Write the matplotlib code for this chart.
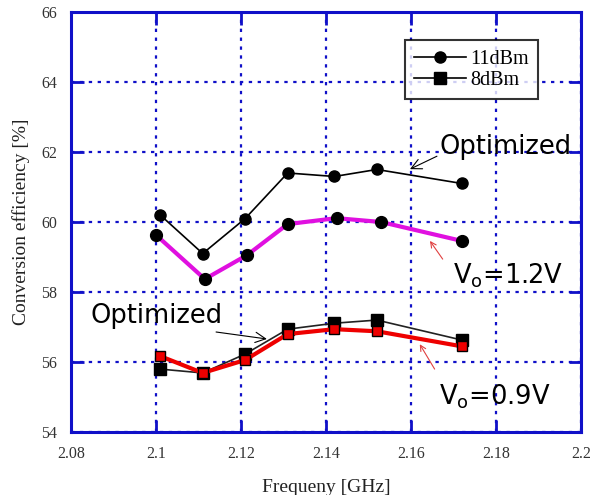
import matplotlib
matplotlib.use("Agg")
import matplotlib.pyplot as plt

# frequency points [GHz]
freq_11 = [2.101, 2.111, 2.121, 2.131, 2.142, 2.152, 2.172]
freq_12v = [2.100, 2.1115, 2.1215, 2.131, 2.1425, 2.153, 2.172]
freq_8 = [2.101, 2.111, 2.121, 2.131, 2.142, 2.152, 2.172]

# conversion efficiency [%]
eff_11_opt = [60.2, 59.1, 60.1, 61.4, 61.3, 61.5, 61.1]
eff_11_v12 = [59.63, 58.37, 59.06, 59.94, 60.11, 60.0, 59.46]
eff_8_opt = [55.8, 55.69, 56.23, 56.94, 57.11, 57.2, 56.63]
eff_8_v09 = [56.17, 55.69, 56.06, 56.8, 56.94, 56.88, 56.45]

xticks = [2.08, 2.1, 2.12, 2.14, 2.16, 2.18, 2.2]
xticklabels = ["2.08", "2.1", "2.12", "2.14", "2.16", "2.18", "2.2"]
yticks = [54, 56, 58, 60, 62, 64, 66]

blue = "#1010c8"

fig = plt.figure(figsize=(5.92, 4.95), dpi=100)
ax = fig.add_axes([0.12, 0.127, 0.861, 0.849])

# 11dBm curves
ax.plot(freq_11, eff_11_opt, color="black", lw=1.2, marker="o", ms=8, zorder=4)
ax.plot(freq_12v, eff_11_v12, color="#e010e0", lw=3, marker="o", ms=8.5,
        mfc="black", mec="black", zorder=4)
# 8dBm curves
ax.plot(freq_8, eff_8_opt, color="#222222", lw=1.2, marker="s", ms=8, mfc="black", mec="black", zorder=4)
ax.plot(freq_8, eff_8_v09, color="#ee0000", lw=3, marker="s", ms=7.5,
        mfc="#ee0000", mec="black", mew=1, zorder=5)

ax.set_xlim(2.08, 2.2)
ax.set_ylim(54, 66)
ax.set_xticks(xticks)
ax.set_xticklabels(xticklabels)
ax.set_yticks(yticks)
ax.grid(True, color=blue, ls=(0, (1.5, 2.5)), lw=1.6)
ax.set_axisbelow(True)
for s in ax.spines.values():
    s.set_color(blue)
    s.set_linewidth(2.2)
ax.tick_params(direction="in", length=9, width=2, color=blue, top=True, right=True,
               labelsize=11.5, labelcolor="#333333", pad=10)
for lab in ax.get_xticklabels() + ax.get_yticklabels():
    lab.set_family("Liberation Serif")

ax.set_xlabel("Frequeny [GHz]", family="Liberation Serif", fontsize=14, color="#222222", labelpad=12)
ax.set_ylabel("Conversion efficiency [%]", family="Liberation Serif", fontsize=14, color="#222222", labelpad=8)

# legend
h1, = ax.plot([], [], color="black", lw=1.2, marker="o", ms=8)
h2, = ax.plot([], [], color="black", lw=1.2, marker="s", ms=8)
leg = ax.legend([h1, h2], ["11dBm", "8dBm"], loc="upper left", bbox_to_anchor=(0.655, 0.932),
                prop={"family": "Liberation Serif", "size": 14.5}, frameon=True, fancybox=False,
                handlelength=2.6, borderpad=0.45, labelspacing=0.1, handletextpad=0.2,
                borderaxespad=0)
leg.get_frame().set_edgecolor("black")
leg.get_frame().set_linewidth(1.5)

# annotations
ax.annotate("Optimized", xy=(2.1598, 61.51), xytext=(2.1668, 61.94), fontsize=18.5,
            arrowprops=dict(arrowstyle="->", color="black", lw=0.8, shrinkA=0, shrinkB=0,
                            relpos=(0, 0.2)))
ax.annotate("Optimized", xy=(2.1261, 56.66), xytext=(2.0845, 57.11), fontsize=18.5, ha="left",
            arrowprops=dict(arrowstyle="->", color="black", lw=0.8, shrinkA=0, shrinkB=0,
                            relpos=(0.8, 0)))
ax.annotate("", xy=(2.1645, 59.46), xytext=(2.1675, 58.94),
            arrowprops=dict(arrowstyle="->", color="#e04040", lw=0.8, shrinkA=0, shrinkB=0))
ax.text(2.1699, 58.23, "V$_\\mathregular{o}$=1.2V", fontsize=18.5)
ax.annotate("", xy=(2.1621, 56.51), xytext=(2.1656, 55.8),
            arrowprops=dict(arrowstyle="->", color="#e04040", lw=0.8, shrinkA=0, shrinkB=0))
ax.text(2.1666, 54.8, "V$_\\mathregular{o}$=0.9V", fontsize=18.5)

fig.savefig("out.png", dpi=100)
